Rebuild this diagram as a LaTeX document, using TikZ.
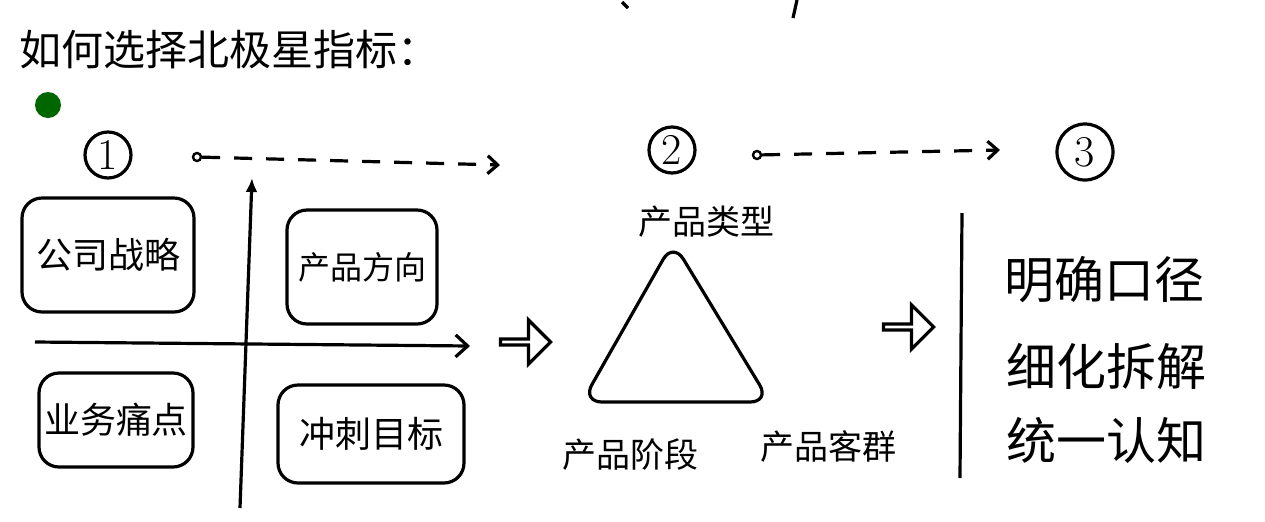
\documentclass[tikz,border=0pt]{standalone}
\usepackage{fontspec}
\newfontfamily\cjk{Noto Sans CJK SC}
\usetikzlibrary{arrows.meta, shapes.arrows, positioning}

\begin{document}
\begin{tikzpicture}[x=0.5pt, y=-0.5pt, line width=1.6pt, font=\cjk]

        % Fix the picture size (pixels of the sketch)
        \useasboundingbox (0,0) rectangle (1265,521);

        \tikzset{
          quad/.style={draw, rounded corners=10pt, inner sep=0pt, font=\cjk\fontsize{18}{18}\selectfont},
          numcircle/.style={draw, circle, inner sep=0pt, minimum size=23pt, font=\fontsize{22}{22}\selectfont},
          label/.style={inner sep=0pt, font=\cjk\fontsize{17}{17}\selectfont},
          result/.style={inner sep=0pt, anchor=west, font=\cjk\fontsize{25}{25}\selectfont},
          fatarrow/.style={draw, single arrow, inner sep=0pt, minimum width=22pt, minimum height=25pt,
                           single arrow head extend=5pt, single arrow head indent=0pt},
          startdot/.style={draw, circle, inner sep=0pt, minimum size=4pt, line width=1.2pt},
          stepline/.style={dash pattern=on 9pt off 7pt, -{Straight Barb[length=5pt, width=9pt]}}
        }

        % 1. Title and the green dot
        \node[inner sep=0pt, anchor=west, font=\cjk\fontsize{21}{21}\selectfont] (title) at (18,50) {如何选择北极星指标：};
        \node[circle, fill=green!40!black, inner sep=0pt, minimum size=13pt] (dot) at (48,105) {};

        % cut-off strokes on the top edge
        \draw (622,2) -- (628,8);
        \draw (797,0) -- (793,18);

        % 2. Step numbers and the dashed links between them
        \node[numcircle] (one) at (108,155) {1};
        \node[numcircle] (two) at (672,150) {2};
        \node[numcircle, minimum size=28pt] (three) at (1085,152) {3};

        \node[startdot] (linkA) at (197,157) {};
        \coordinate (linkAend) at (500,165);
        \draw[stepline] (linkA) -- (linkAend);

        \node[startdot] (linkB) at (757,155) {};
        \coordinate (linkBend) at (1000,150);
        \draw[stepline] (linkB) -- (linkBend);

        % 3. Quadrant with four boxes
        \coordinate (ybot) at (240,508);
        \coordinate (ytop) at (252,178);
        \coordinate (xleft) at (35,342);
        \coordinate (xright) at (470,346);
        \draw[-{Latex[length=7pt, width=6pt]}] (ybot) -- (ytop);
        \draw[-{Straight Barb[length=6pt, width=11pt]}] (xleft) -- (xright);

        \node[quad, minimum width=86pt, minimum height=57pt] (strategy) at (108,255) {公司战略};
        \node[quad, minimum width=75pt, minimum height=57pt, font=\cjk\fontsize{16}{16}\selectfont] (direction) at (362,267) {产品方向};
        \node[quad, minimum width=77pt, minimum height=47pt] (pain) at (116,420) {业务痛点};
        \node[quad, minimum width=93pt, minimum height=49pt] (sprint) at (371,434) {冲刺目标};

        % 4. Triangle of product factors
        \node[fatarrow] (toTri) at (524,342) {};
        \coordinate (apex) at (673,242);
        \coordinate (bl) at (582,402);
        \coordinate (br) at (770,402);
        \draw[rounded corners=10pt] (apex) -- (br) -- (bl) -- cycle;

        \node[label] (ptype) at (706,222) {产品类型};
        \node[label] (pstage) at (630,455) {产品阶段};
        \node[label] (pusers) at (828,447) {产品客群};

        % 5. Results
        \node[fatarrow] (toRes) at (907,327) {};
        \coordinate (bartop) at (962,213);
        \coordinate (barbot) at (960,478);
        \draw (bartop) -- (barbot);

        \node[result] (r1) at (1003,280) {明确口径};
        \node[result] (r2) at (1005,366) {细化拆解};
        \node[result] (r3) at (1005,440) {统一认知};

\end{tikzpicture}
\end{document}
